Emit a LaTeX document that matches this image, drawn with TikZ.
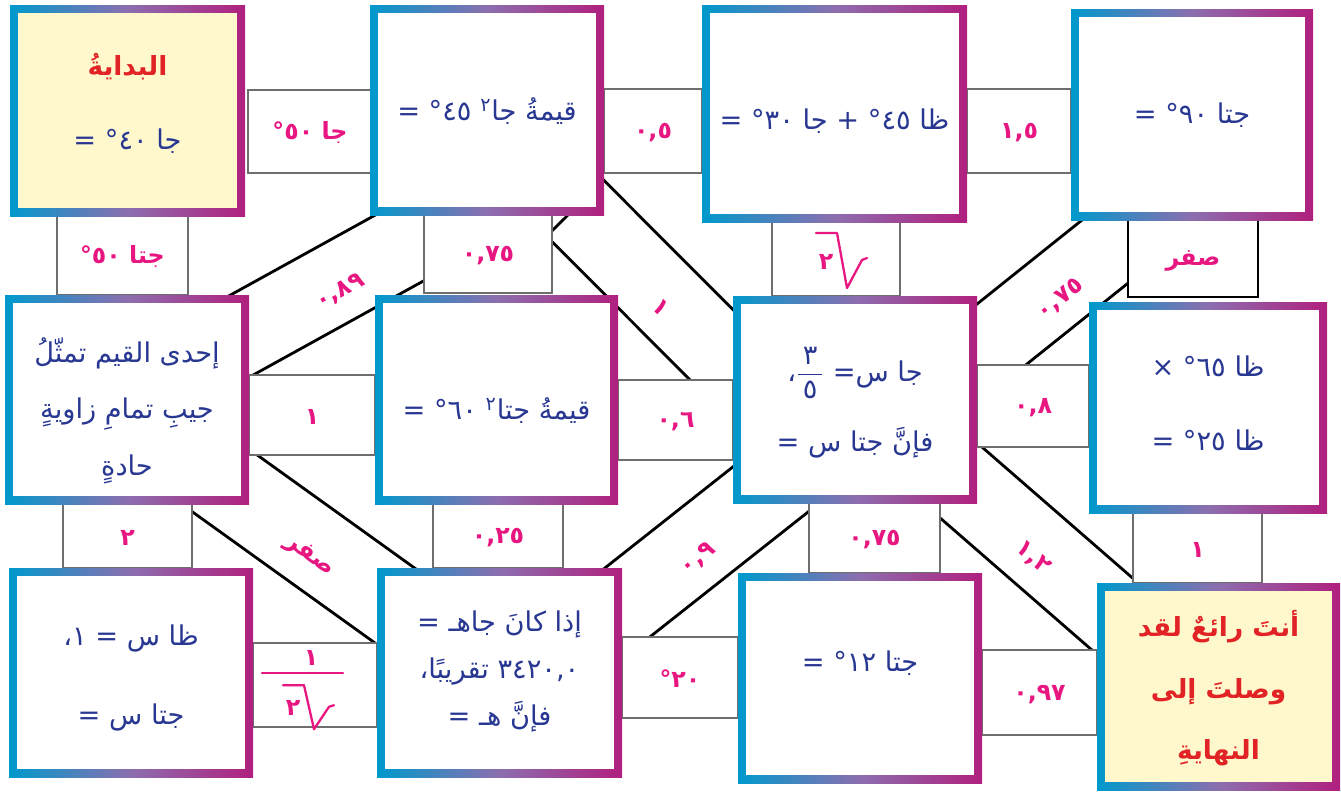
\documentclass[tikz,border=0pt]{standalone}
\usepackage{fontspec}
\usepackage{amsmath}
\usetikzlibrary{calc, fit}
\newfontfamily\arabicfont[Script=Arabic]{DejaVu Sans}
\TeXXeTstate=1

\definecolor{cardblue}{RGB}{0,153,204}
\definecolor{cardmid}{RGB}{140,110,175}
\definecolor{cardmagenta}{RGB}{176,32,126}
\definecolor{textblue}{RGB}{40,55,145}
\definecolor{labelpink}{RGB}{232,22,128}
\definecolor{titlered}{RGB}{226,35,38}
\definecolor{goalyellow}{RGB}{255,248,205}
\definecolor{linkgray}{RGB}{110,110,110}

\newcommand{\artxt}[1]{\beginR #1\endR}
\newcommand{\lbltxt}[1]{\raisebox{-5.5pt}[\height][\depth]{\beginR #1\endR}}
\newcommand{\cardfont}{\arabicfont\fontsize{15.5}{32}\selectfont}
\newcommand{\titlefont}{\arabicfont\bfseries\fontsize{15}{30}\selectfont}
\newcommand{\labelfont}{\arabicfont\bfseries\fontsize{13.5}{15}\selectfont}

\begin{document}
\begin{tikzpicture}[x=0.02cm, y=-0.02cm,
		% Card styles
		cardbase/.style={inner sep=0pt, left color=cardblue, right color=cardmagenta, middle color=cardmid},
		card/.style={cardbase, path picture={\fill[white] ($(path picture bounding box.south west)+(8,-8)$) rectangle ($(path picture bounding box.north east)+(-8,8)$);}},
		goalcard/.style={cardbase, path picture={\fill[goalyellow] ($(path picture bounding box.south west)+(8,-8)$) rectangle ($(path picture bounding box.north east)+(-8,8)$);}},
		cardtext/.style={text=textblue, font=\cardfont, align=center, inner sep=0pt},
		goaltext/.style={cardtext, text=titlered, font=\titlefont},
		% Link styles
		linkbox/.style={draw=linkgray, line width=1.4pt, fill=white, inner sep=0pt, text=labelpink, font=\labelfont},
		band/.style={draw=black, line width=1.6pt, fill=white},
		bandlabel/.style={text=labelpink, font=\labelfont, inner sep=1pt},
		rootline/.style={draw=labelpink, line width=1.3pt, line join=round, line cap=round},
		rootsign/.pic={
			\draw[rootline] (-20,-26) -- (1,-26) -- (11,29) -- (26,1) -- (31,-1);
			\node[bandlabel, inner sep=0pt] (-two) at (-10,3) {٢};
		}
		]
		
		\useasboundingbox (0,0) rectangle (1341,791);
		\fill[white] (0,0) rectangle (1341,791);
		
		% --- DIAGONAL BANDS ---
		\foreach \n/\ax/\ay/\bx/\by/\w/\p/\val in {
			1/150/385.7/470/209/0.81cm/0.58/{٠,٨٩},
			2/575/208/790/423.5/0.80cm/0.43/{١},
			3/940/383.6/1160/207.6/0.78cm/0.52/{٠,٧٥},
			4/900/429.4/1190/681.7/0.81cm/0.48/{١,٢},
			5/160/436.9/470/659.5/0.84cm/0.50/{صفر},
			6/540/671.5/850/426.6/0.82cm/0.49/{٠,٩}}{
			\coordinate (band\n a) at (\ax,\ay);
			\coordinate (band\n b) at (\bx,\by);
			\draw[band] ($(band\n a)!\w!90:(band\n b)$) -- ($(band\n b)!\w!-90:(band\n a)$) -- ($(band\n b)!\w!90:(band\n a)$) -- ($(band\n a)!\w!-90:(band\n b)$) -- cycle;
			\path (band\n a) -- (band\n b) node[bandlabel, pos=\p, sloped] (band\n t) {\lbltxt{\val}};
		}
		
		% --- LINK BOXES ---
		% row 1
		\node[linkbox, fit={(248,90) (372,173)}] (linkA) {\lbltxt{جا ٥٠°}};
		\node[linkbox, fit={(604,89) (702,173)}] (linkB) {\lbltxt{٠,٥}};
		\node[linkbox, fit={(967,89) (1071,173)}] (linkC) {\lbltxt{١,٥}};
		% row 1 to row 2
		\node[linkbox, fit={(57,216) (188,295)}] (linkD) {\lbltxt{جتا ٥٠°}};
		\node[linkbox, fit={(424,215) (552,293)}] (linkE) {\lbltxt{٠,٧٥}};
		\node[linkbox, fit={(772,222) (900,296)}] (linkF) {};
		\pic at (linkF.center) {rootsign};
		\node[linkbox, draw=black, fit={(1128,220) (1258,297)}] (linkG) {\lbltxt{صفر}};
		% row 2
		\node[linkbox, fit={(249,375) (375,455)}] (linkL) {\lbltxt{١}};
		\node[linkbox, fit={(618,380) (733,460)}] (linkM) {\lbltxt{٠,٦}};
		\node[linkbox, fit={(977,365) (1089,447)}] (linkN) {\lbltxt{٠,٨}};
		% row 2 to row 3
		\node[linkbox, fit={(63,504) (192,568)}] (linkH) {\lbltxt{٢}};
		\node[linkbox, fit={(433,504) (563,568)}] (linkI) {\lbltxt{٠,٢٥}};
		\node[linkbox, fit={(809,503) (940,573)}] (linkJ) {\lbltxt{٠,٧٥}};
		\node[linkbox, fit={(1133,513) (1262,583)}] (linkK) {\lbltxt{١}};
		% row 3
		\node[linkbox, fit={(253,643) (377,727)}] (linkO) {};
		\node[bandlabel, inner sep=0pt] (linkOnum) at ($(linkO.center)+(-4,-27)$) {١};
		\draw[rootline] ($(linkO.center)+(-53,-12)$) -- ($(linkO.center)+(28,-12)$);
		\pic[yscale=0.8] at ($(linkO.center)+(-12,21)$) {rootsign};
		\node[linkbox, fit={(622,637) (738,718)}] (linkP) {\lbltxt{٢٠°}};
		\node[linkbox, fit={(982,650) (1097,735)}] (linkQ) {\lbltxt{٠,٩٧}};
		
		% --- CARDS ---
		% row 1
		\node[goalcard, fit={(10,5) (245,216)}] (start) {};
		\node[cardtext] (starttxt) at ($(start.center)+(0,-7)$) {{\titlefont\color{titlered}\artxt{البدايةُ}}\\[10pt]\artxt{جا ٤٠° =}};
		\node[card, fit={(370,5) (604,215)}] (c2) {};
		\node[cardtext] (c2txt) at ($(c2.center)+(0,1)$) {\artxt{قيمةُ جا\textsuperscript{٢} ٤٥° =}};
		\node[card, fit={(702,5) (967,222)}] (c3) {};
		\node[cardtext] (c3txt) at ($(c3.center)+(0,8)$) {\artxt{ظا ٤٥° + جا ٣٠° =}};
		\node[card, fit={(1071,9) (1313,220)}] (c4) {};
		\node[cardtext] (c4txt) at ($(c4.center)+(0,1)$) {\artxt{جتا ٩٠° =}};
		% row 2
		\node[card, fit={(5,295) (249,504)}] (c5) {};
		\node[cardtext] (c5txt) at ($(c5.center)+(0,11)$) {\artxt{إحدى القيم تمثّلُ}\\[0pt]\artxt{جيبِ تمامِ زاويةٍ}\\[0pt]\artxt{حادةٍ}};
		\node[card, fit={(375,295) (618,504)}] (c6) {};
		\node[cardtext] (c6txt) at ($(c6.center)+(0,11)$) {\artxt{قيمةُ جتا\textsuperscript{٢} ٦٠° =}};
		\node[card, fit={(733,296) (977,503)}] (c7) {};
		\node[cardtext] (c7txt) at ($(c7.center)+(0,3)$) {\artxt{جا س= $\dfrac{\hbox{\,٣\,}}{\hbox{\,٥\,}}$،}\\[8pt]\artxt{فإنَّ جتا س =}};
		\node[card, fit={(1089,302) (1327,513)}] (c8) {};
		\node[cardtext] (c8txt) at ($(c8.center)+(0,-4)$) {\artxt{ظا ٦٥° ×}\\[10pt]\artxt{ظا ٢٥° =}};
		% row 3
		\node[card, fit={(9,568) (253,777)}] (c9) {};
		\node[cardtext] (c9txt) at ($(c9.center)+(0,5)$) {\artxt{ظا س = ١،}\\[13pt]\artxt{جتا س =}};
		\node[card, fit={(377,568) (622,777)}] (c10) {};
		\node[cardtext] (c10txt) at ($(c10.center)+(0,-1)$) {\artxt{إذا كانَ جاهـ =}\\[-5pt]\artxt{٣٤٢٠,٠ تقريبًا،}\\[-5pt]\artxt{فإنَّ هـ =}};
		\node[card, fit={(738,573) (982,783)}] (c11) {};
		\node[cardtext] (c11txt) at ($(c11.center)+(0,-15)$) {\artxt{جتا ١٢° =}};
		\node[goalcard, fit={(1097,583) (1340,790)}] (goal) {};
		\node[goaltext] (goaltxt) at ($(goal.center)+(0,2)$) {\artxt{أنتَ رائعٌ لقد}\\[5pt]\artxt{وصلتَ إلى}\\[5pt]\artxt{النهايةِ}};
		
	\end{tikzpicture}
\end{document}
